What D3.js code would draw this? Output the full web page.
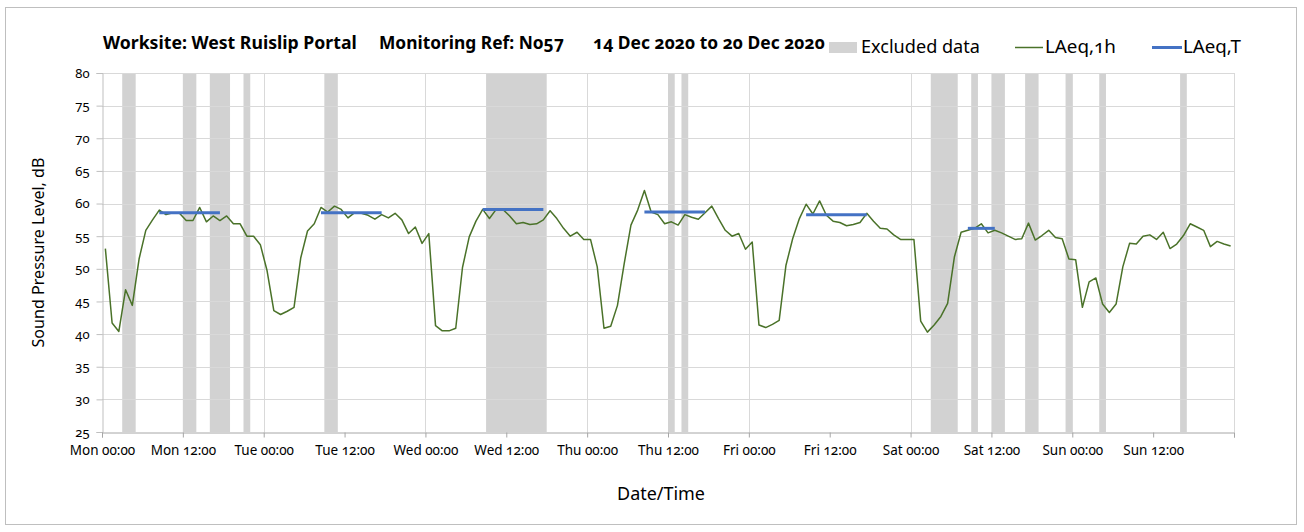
<!DOCTYPE html>
<html><head><meta charset="utf-8">
<script src="https://cdn.jsdelivr.net/npm/d3@7/dist/d3.min.js"></script>
<style>
body{margin:0;background:#fff;}
svg text{font-family:"Noto Sans",sans-serif;font-variant-numeric:oldstyle-nums;font-feature-settings:"onum";fill:#000;}
</style></head><body>
<svg id="chart" width="1304" height="532"></svg>
<script>
// ---------- data ----------
const titleParts = ["Worksite: West Ruislip Portal", "Monitoring Ref: No57", "14 Dec 2020 to 20 Dec 2020"];
const legendLabels = ["Excluded data", "LAeq,1h", "LAeq,T"];
const xTickLabels = ["Mon 00:00","Mon 12:00","Tue 00:00","Tue 12:00","Wed 00:00","Wed 12:00","Thu 00:00","Thu 12:00","Fri 00:00","Fri 12:00","Sat 00:00","Sat 12:00","Sun 00:00","Sun 12:00",""];
const yTicks = [25,30,35,40,45,50,55,60,65,70,75,80];
const xAxisTitle = "Date/Time";
const yAxisTitle = "Sound Pressure Level, dB";

// hourly LAeq,1h values, Mon 00:00 .. Sun 23:00 (168 hours)
const laeq1h = [
  53.1,41.7,40.4,46.8,44.4,51.5,55.9,57.5,59.0,58.3,58.6,58.5,57.4,57.4,59.4,57.2,58.1,57.4,58.1,56.9,56.9,55.0,55.0,53.7,
  49.7,43.6,43.0,43.5,44.1,51.7,55.8,56.9,59.4,58.7,59.6,59.1,57.8,58.6,58.5,58.2,57.6,58.3,57.8,58.5,57.5,55.4,56.4,53.9,
  55.4,41.3,40.5,40.5,40.9,50.2,54.9,57.3,59.1,57.7,59.1,59.1,58.1,56.9,57.1,56.8,56.9,57.5,58.9,57.7,56.2,55.0,55.6,54.5,
  54.5,50.3,40.9,41.2,44.4,50.8,56.7,59.0,62.0,58.7,58.3,56.9,57.2,56.7,58.3,57.9,57.6,58.6,59.6,57.7,55.9,55.0,55.4,53.0,
  54.1,41.4,41.0,41.5,42.1,50.5,54.6,57.7,59.9,58.4,60.4,58.2,57.3,57.1,56.6,56.8,57.1,58.5,57.3,56.2,56.1,55.2,54.5,54.5,
  54.5,42.0,40.3,41.4,42.7,44.7,51.8,55.6,55.9,56.2,56.9,55.5,55.9,55.5,55.0,54.5,54.6,57.0,54.4,55.1,55.9,54.8,54.6,51.5,
  51.4,44.1,48.0,48.6,44.6,43.3,44.6,50.3,53.9,53.8,55.0,55.2,54.5,55.6,53.1,53.8,55.1,56.9,56.4,55.9,53.4,54.2,53.8,53.5
];

// LAeq,T daytime periods (hour index from Mon 00:00)
const laeqTStart  = [8, 32, 56, 80, 104, 128];
const laeqTEnd    = [17, 41, 65, 89, 113, 132];
const laeqTValues = [58.6, 58.6, 59.1, 58.7, 58.3, 56.2];

// excluded periods (hours from Mon 00:00)
const excludedStart = [3, 12, 16, 21, 33, 57, 84, 86, 123, 129, 132, 137, 143, 148, 160];
const excludedEnd   = [5, 14, 19, 22, 35, 66, 85, 87, 127, 130, 134, 139, 144, 149, 161];

// ---------- layout ----------
const svg = d3.select("#chart");
const plot = {left: 102, right: 1234, top: 73, bottom: 432};
const x = d3.scaleLinear().domain([0, 168]).range([plot.left, plot.right]);
const y = d3.scaleLinear().domain([25, 80]).range([plot.bottom, plot.top]);

// outer border
svg.append("rect").attr("x", 5.5).attr("y", 7.5).attr("width", 1291).attr("height", 517)
  .attr("fill", "#fff").attr("stroke", "#bfbfbf").attr("stroke-width", 1);

// excluded bands
svg.append("g").selectAll("rect").data(excludedStart).join("rect")
  .attr("x", (d) => x(d)).attr("width", (d, i) => x(excludedEnd[i]) - x(d))
  .attr("y", y(80)).attr("height", y(25) - y(80))
  .attr("fill", "#bfbfbf").attr("opacity", 0.7);

// horizontal gridlines
svg.append("g").selectAll("line").data(yTicks.filter(v => v > 25)).join("line")
  .attr("x1", plot.left).attr("x2", plot.right)
  .attr("y1", d => Math.round(y(d)) + 0.5).attr("y2", d => Math.round(y(d)) + 0.5)
  .attr("stroke", "#d9d9d9").attr("stroke-width", 1);

// vertical gridlines (each day)
const dayTicks = d3.range(24, 169, 24);
svg.append("g").selectAll("line").data(dayTicks).join("line")
  .attr("x1", d => Math.round(x(d)) + 0.5).attr("x2", d => Math.round(x(d)) + 0.5)
  .attr("y1", plot.top).attr("y2", plot.bottom)
  .attr("stroke", "#d9d9d9").attr("stroke-width", 1);

// y axis
const yAxis = svg.append("g").attr("transform", `translate(${plot.left + 0.5},0)`)
  .call(d3.axisLeft(y).tickValues(yTicks).tickSize(6).tickPadding(7).tickFormat(d3.format("d")));
yAxis.select(".domain").attr("stroke", "#bfbfbf");
yAxis.selectAll(".tick line").attr("stroke", "#bfbfbf");
yAxis.selectAll("text").attr("font-size", 13).style("font-family", '"Noto Sans",sans-serif');

// x axis
const xTickValues = d3.range(0, 169, 12);
const xAxis = svg.append("g").attr("transform", `translate(0,${Math.round(plot.bottom) + 0.5})`)
  .call(d3.axisBottom(x).tickValues(xTickValues).tickSize(5).tickPadding(8)
    .tickFormat((d, i) => xTickLabels[i]));
xAxis.select(".domain").attr("stroke", "#a6a6a6");
xAxis.selectAll(".tick line").attr("stroke", "#a6a6a6");
xAxis.selectAll("text").attr("font-size", 13.5).style("font-family", '"Noto Sans",sans-serif');

// LAeq,1h line
const line = d3.line().x((d, i) => x(i + 0.5)).y(d => y(d));
svg.append("path").datum(laeq1h).attr("d", line)
  .attr("fill", "none").attr("stroke", "#4a7229").attr("stroke-width", 1.5).attr("stroke-linejoin", "round");

// LAeq,T segments
svg.append("g").selectAll("line").data(laeqTValues).join("line")
  .attr("x1", (d, i) => x(laeqTStart[i] + 0.5)).attr("x2", (d, i) => x(laeqTEnd[i] + 0.5))
  .attr("y1", d => y(d)).attr("y2", d => y(d))
  .attr("stroke", "#4472c4").attr("stroke-width", 3);

// helper to fit text to a target width
function fit(sel, target) {
  sel.attr("font-size", 100);
  const w = sel.node().getComputedTextLength();
  sel.attr("font-size", 100 * target / w);
  return sel;
}

// title
const titleX = [103, 379, 593];
const titleW = [254, 185, 232];
titleParts.forEach((t, i) => {
  const s = svg.append("text").attr("x", titleX[i]).attr("y", 49).attr("font-weight", "bold").text(t);
  fit(s, titleW[i]);
});

// legend
svg.append("rect").attr("x", 829).attr("y", 42).attr("width", 28).attr("height", 11).attr("fill", "#d3d3d3");
fit(svg.append("text").attr("x", 861).attr("y", 53).text(legendLabels[0]), 119);
svg.append("line").attr("x1", 1015).attr("x2", 1043).attr("y1", 47.5).attr("y2", 47.5)
  .attr("stroke", "#4a7229").attr("stroke-width", 1.5);
fit(svg.append("text").attr("x", 1045).attr("y", 53).text(legendLabels[1]), 71);
svg.append("line").attr("x1", 1152).attr("x2", 1182).attr("y1", 47.5).attr("y2", 47.5)
  .attr("stroke", "#4472c4").attr("stroke-width", 3);
fit(svg.append("text").attr("x", 1183).attr("y", 53).text(legendLabels[2]), 58);

// axis titles
fit(svg.append("text").attr("x", 661).attr("y", 500).attr("text-anchor", "middle").text(xAxisTitle), 88);
fit(svg.append("text").attr("transform", `translate(44,${(plot.top + plot.bottom) / 2}) rotate(-90)`)
  .attr("text-anchor", "middle").text(yAxisTitle), 190);
</script>
</body></html>
